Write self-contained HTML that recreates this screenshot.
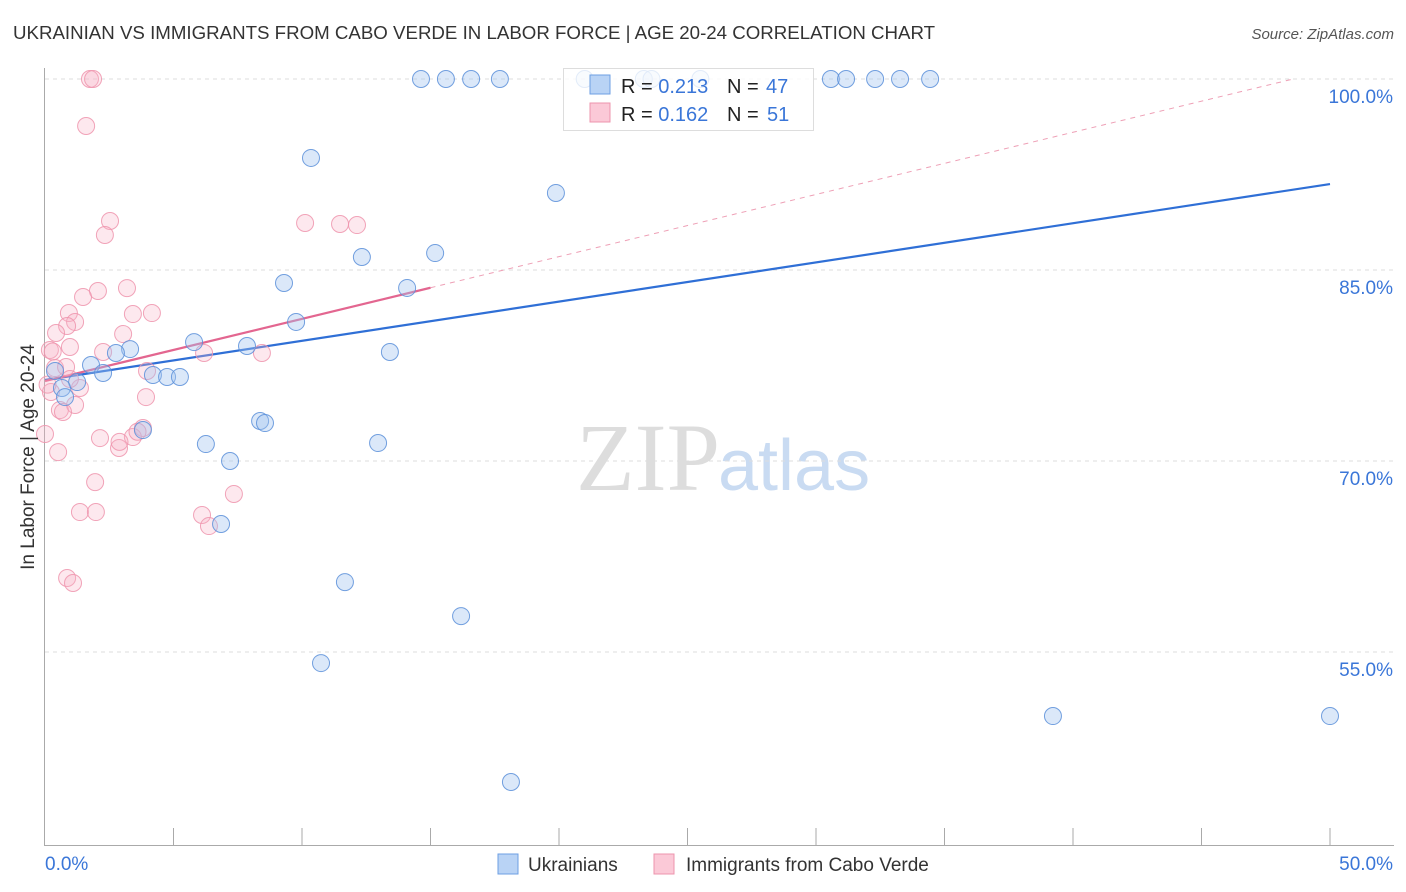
<!DOCTYPE html>
<html><head><meta charset="utf-8">
<style>
body{margin:0;background:#fff;font-family:"Liberation Sans",sans-serif;}
#wrap{position:relative;width:1406px;height:892px;overflow:hidden;}
</style></head>
<body>
<div id="wrap">
<svg id="chart" width="1406" height="892" xmlns="http://www.w3.org/2000/svg">
  <text x="13" y="39" font-size="18.7" fill="#333">UKRAINIAN VS IMMIGRANTS FROM CABO VERDE IN LABOR FORCE | AGE 20-24 CORRELATION CHART</text>
  <text x="1394" y="39" font-size="15" fill="#555" text-anchor="end" font-style="italic">Source: ZipAtlas.com</text>
  <text x="720" y="490" font-size="96" fill="#ddd" text-anchor="end" font-family="Liberation Serif,serif">ZIP</text>
  <text x="718" y="490" font-size="72" fill="#c9dbf2">atlas</text>
  <g id="grid"></g>
  <g id="axes"></g>
  <g id="lines"></g>
  <g id="pts"></g>
  <text transform="translate(34,457) rotate(-90)" font-size="19" fill="#333" text-anchor="middle">In Labor Force | Age 20-24</text>
  <g>
    <rect x="563.5" y="68.5" width="250" height="62" fill="#fff" fill-opacity="0.8" stroke="#ddd"/>
    <rect x="590" y="75" width="20" height="19" fill="#b9d3f5" stroke="#6d9fe3"/>
    <rect x="590" y="103" width="20" height="19" fill="#fbc9d7" stroke="#ee94ad"/>
    <text x="621" y="93" font-size="20" fill="#222">R = <tspan fill="#3a76d8">0.213</tspan></text>
    <text x="727" y="93" font-size="20" fill="#222">N = </text>
    <text x="766" y="93" font-size="20" fill="#3a76d8">47</text>
    <text x="621" y="121" font-size="20" fill="#222">R = <tspan fill="#3a76d8">0.162</tspan></text>
    <text x="727" y="121" font-size="20" fill="#222">N = </text>
    <text x="767" y="121" font-size="20" fill="#3a76d8">51</text>
  </g>
  <g>
    <rect x="498" y="854" width="20" height="20" fill="#b9d3f5" stroke="#6d9fe3"/>
    <text x="528" y="871" font-size="19" fill="#333">Ukrainians</text>
    <rect x="654" y="854" width="20" height="20" fill="#fbc9d7" stroke="#ee94ad"/>
    <text x="686" y="871" font-size="19" fill="#333">Immigrants from Cabo Verde</text>
  </g>
</svg>
</div>
<script>
const blueX=[14.63,15.60,16.58,17.70,21.0,23.3,23.6,25.5,30.58,31.17,32.30,33.27,34.44,10.35,19.88,12.33,15.18,9.30,14.09,9.77,5.80,7.86,3.31,2.76,13.42,1.79,2.26,4.20,4.75,5.25,1.25,0.66,0.78,0.39,8.37,8.56,3.81,6.26,12.96,7.20,6.85,11.67,16.19,10.74,39.22,50.0,18.13];
const blueY=[100,100,100,100,100,100,100,100,100,100,100,100,100,93.80,91.05,86.02,86.33,83.98,83.59,80.92,79.34,79.03,78.79,78.48,78.56,77.54,76.91,76.75,76.60,76.60,76.20,75.73,75.02,77.07,73.14,72.98,72.43,71.33,71.41,70.00,65.05,60.49,57.82,54.13,49.97,49.97,44.79];
const pinkX=[1.75,1.87,1.60,2.53,2.33,10.12,11.48,12.14,2.06,3.19,1.48,0.93,4.16,3.42,1.17,0.86,0.43,3.04,0.97,0.19,2.26,6.19,8.44,0.39,0.82,1.36,3.97,0.23,0.58,1.17,0.70,3.93,3.81,3.42,2.14,2.88,0,0.51,1.95,7.35,1.36,1.98,6.11,6.38,0.86,1.09,0.97,0.3,3.6,0.1,2.9];
const pinkY=[100,100,96.31,88.85,87.75,88.69,88.61,88.53,83.35,83.58,82.88,81.62,81.62,81.54,80.92,80.60,80.05,79.97,78.95,78.72,78.56,78.48,78.48,77.30,77.38,75.73,77.07,75.42,74.00,74.40,73.85,75.02,72.59,71.88,71.80,71.02,72.12,70.70,68.34,67.41,65.99,65.99,65.76,64.89,60.81,60.42,76.44,78.6,72.3,76.0,71.5];
const yTicks=[100,85,70,55];
const yTickLabels=["100.0%","85.0%","70.0%","55.0%"];
const xTickLabels=["0.0%","50.0%"];
const blueTrend=[76.36,91.75];
const pinkTrend=[76.28,100.7];
const pinkSolidEnd=15;
const X=v=>45+v/50*1285;
const Y=v=>79+(100-v)*12.733;
const NS="http://www.w3.org/2000/svg";
function mk(tag,attrs,parent){const e=document.createElementNS(NS,tag);for(const k in attrs)e.setAttribute(k,attrs[k]);parent.appendChild(e);return e;}
const grid=document.getElementById('grid'),axes=document.getElementById('axes'),lines=document.getElementById('lines'),pts=document.getElementById('pts');
yTicks.forEach((t,i)=>{
  const l=mk('line',{x1:45,x2:1394,y1:Y(t),y2:Y(t),stroke:'#ddd','stroke-dasharray':'4,4'},grid);
  
  
  const tx=mk('text',{x:1393,y:Y(t)+24,'font-size':19,fill:'#3a76d8','text-anchor':'end'},grid);
  tx.textContent=yTickLabels[i];
  
  
});
const ya=mk('line',{x1:44.5,x2:44.5,y1:68,y2:846,stroke:'#aaa'},axes);


const xa=mk('line',{x1:44,x2:1394,y1:845.5,y2:845.5,stroke:'#aaa'},axes);


for(let i=1;i<=10;i++){
  const t=mk('line',{x1:X(i*5),x2:X(i*5),y1:828,y2:846,stroke:'#aaa'},axes);
  
  
}
[[0,45,'start'],[50,1393,'end']].forEach((d,i)=>{
  const tx=mk('text',{x:d[1],y:870,'font-size':19,fill:'#3a76d8','text-anchor':d[2]},axes);
  tx.textContent=xTickLabels[i];
  
  
});
function drawPts(xs,ys,fill,stroke,name){
  xs.forEach((x,i)=>{
    const c=mk('circle',{cx:X(x),cy:Y(ys[i]),r:8.5,fill:fill,stroke:stroke,'stroke-width':1,'stroke-opacity':0.85},pts);
    
    
  });
}
drawPts(pinkX,pinkY,'rgba(248,180,200,0.3)','#ee94ad','cabo-verde-point');
drawPts(blueX,blueY,'rgba(160,195,240,0.38)','#5b8fd9','ukrainian-point');
const pAt=x=>pinkTrend[0]+(pinkTrend[1]-pinkTrend[0])*x/50;
const pd=mk('line',{x1:X(pinkSolidEnd),y1:Y(pAt(pinkSolidEnd)),x2:X(48.6),y2:Y(pAt(48.6)),stroke:'#eea0b6','stroke-width':1,'stroke-dasharray':'5,5'},lines);


const bl=mk('line',{x1:X(0),y1:Y(blueTrend[0]),x2:X(50),y2:Y(blueTrend[1]),stroke:'#2f6fd6','stroke-width':2.2},lines);


const pl=mk('line',{x1:X(0),y1:Y(pAt(0)),x2:X(pinkSolidEnd),y2:Y(pAt(pinkSolidEnd)),stroke:'#e36690','stroke-width':2.2},lines);


</script>
</body></html>
